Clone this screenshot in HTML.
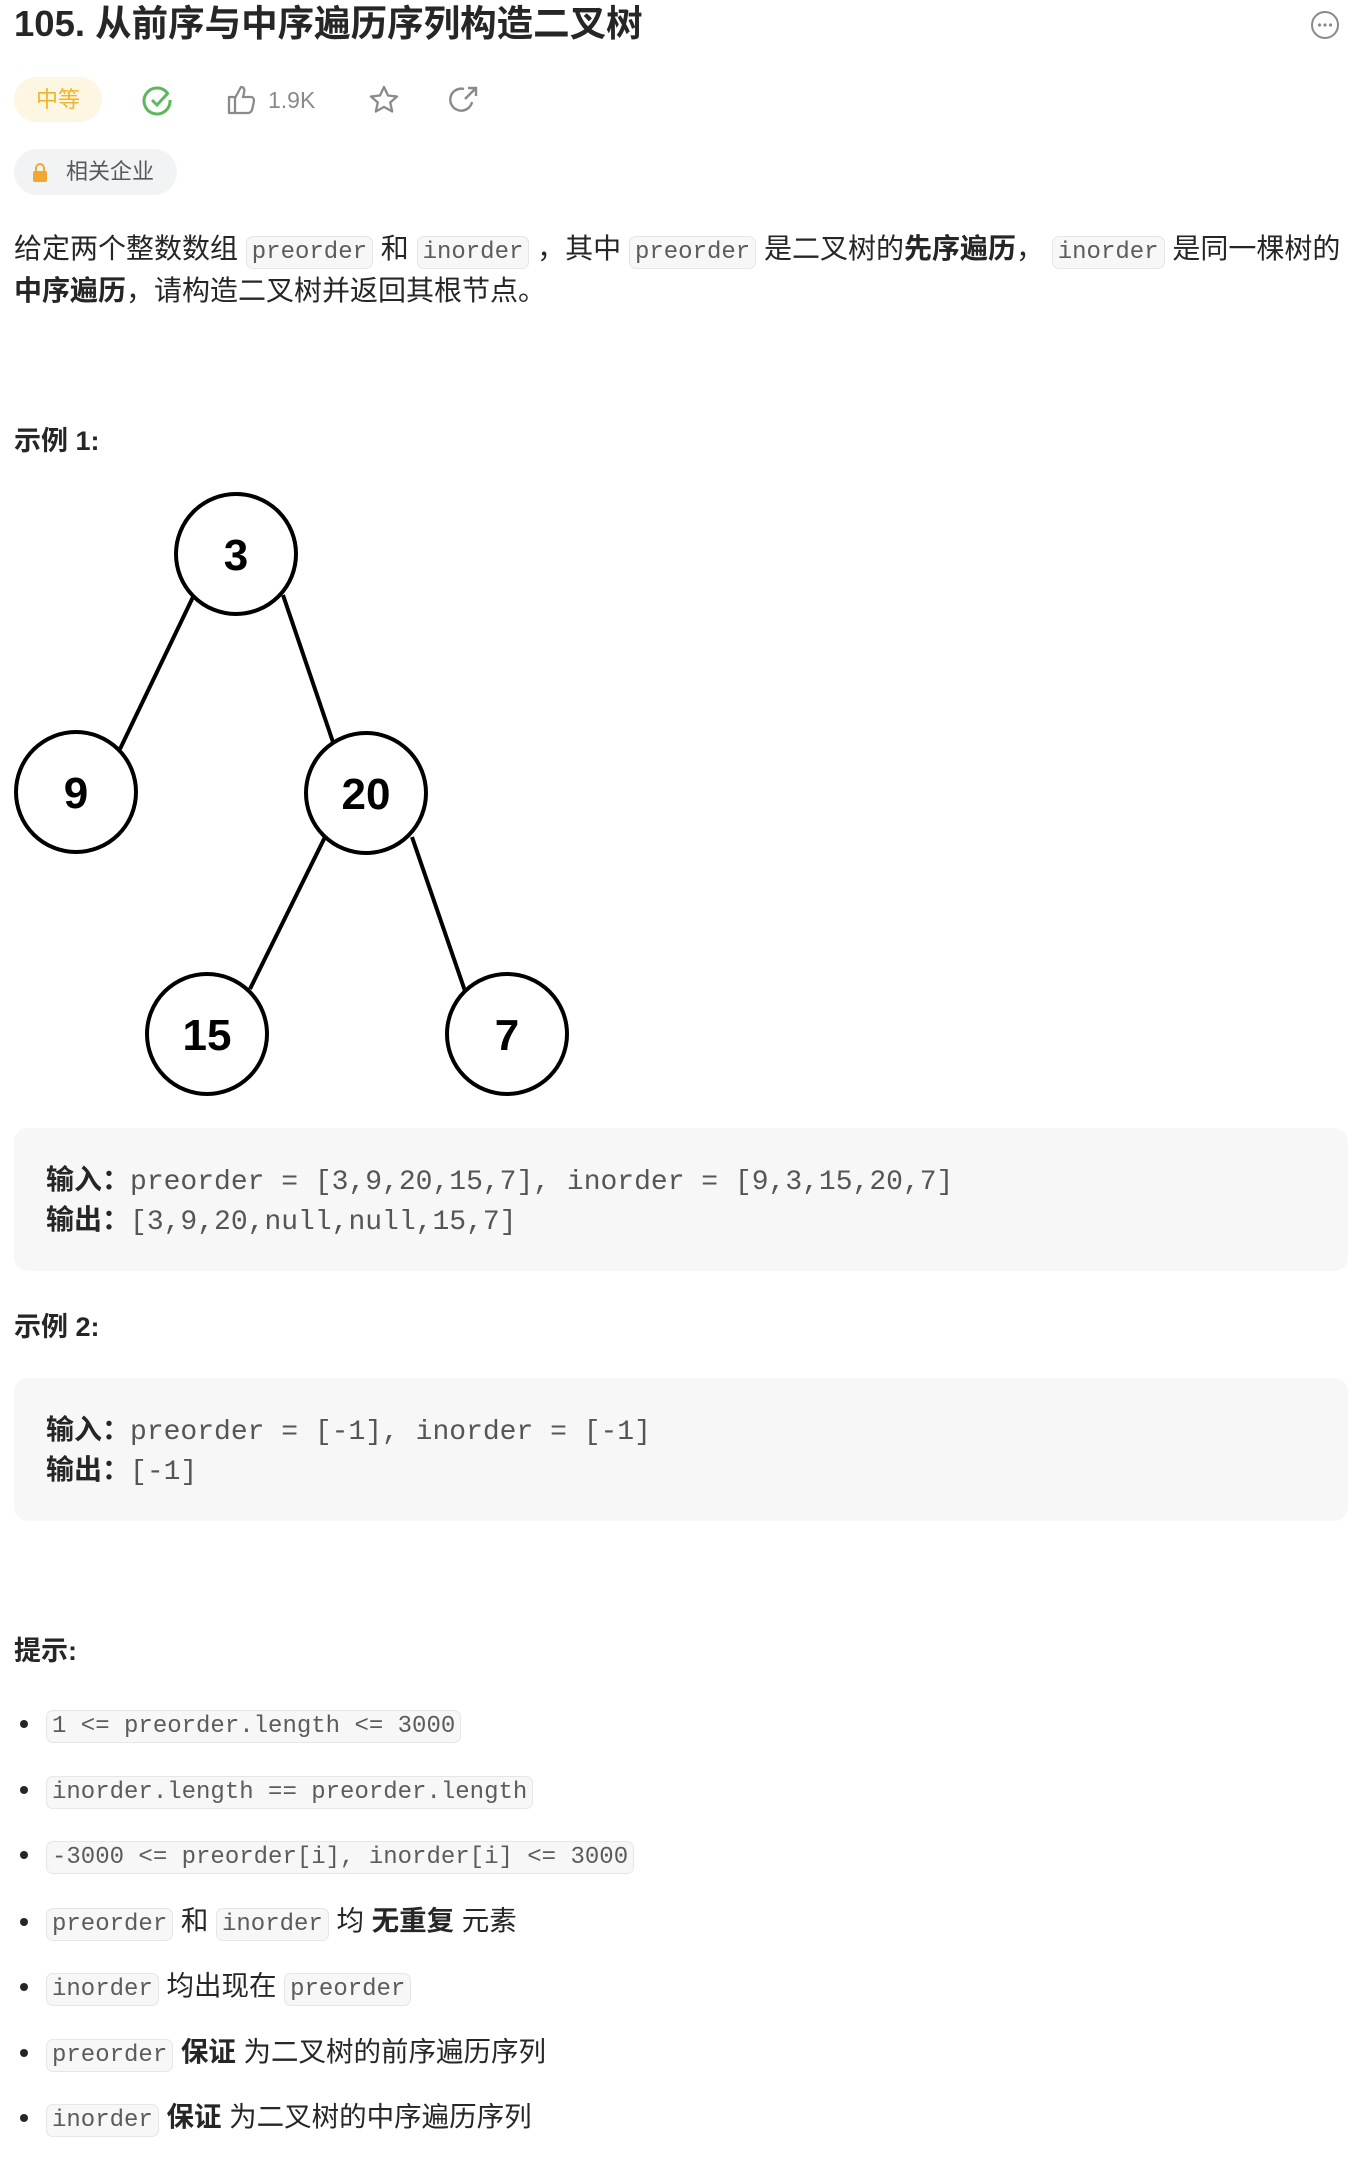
<!DOCTYPE html>
<html><head><meta charset="utf-8"><style>
*{margin:0;padding:0;box-sizing:border-box}
body{width:1364px;height:2184px;background:#fff;position:relative;overflow:hidden;font-family:"Liberation Sans","Noto Sans CJK SC",sans-serif;color:#262626}
.a{position:absolute;white-space:nowrap}
code{font-family:"Liberation Mono","DejaVu Sans Mono",monospace;font-size:24px;color:#5c5c5c;background:#f7f7f7;border:1.5px solid #e6e6e6;border-radius:7px;padding:2px 5px;}
.t{font-size:28px;line-height:42px}
.blk{position:absolute;left:14px;width:1334px;background:#f7f7f7;border-radius:14px}
.blk div{position:absolute;left:32px;font-size:28px;font-family:"Liberation Mono","DejaVu Sans Mono",monospace;color:#555;white-space:nowrap}
.blk b{font-family:"Liberation Sans","Noto Sans CJK SC",sans-serif;color:#262626}
.li{position:absolute;left:20px;font-size:27.5px;white-space:nowrap;line-height:40px}
.li:before{content:"";position:absolute;left:0;top:17px;width:8px;height:8px;border-radius:50%;background:#262626}
.li span.c{margin-left:26px}
</style></head><body>
<div class="a" style="left:14px;top:1px;font-size:36.5px;font-weight:bold;line-height:46px">105. 从前序与中序遍历序列构造二叉树</div>
<svg class="a" style="left:1310px;top:10px" width="30" height="30"><circle cx="15" cy="15" r="13" fill="none" stroke="#8a8a8a" stroke-width="2"/><circle cx="9.5" cy="15" r="1.6" fill="#8a8a8a"/><circle cx="15" cy="15" r="1.6" fill="#8a8a8a"/><circle cx="20.5" cy="15" r="1.6" fill="#8a8a8a"/></svg>
<div class="a" style="left:14px;top:77px;width:88px;height:45px;border-radius:23px;background:#fdf6e3;color:#f0b429;font-size:22px;line-height:45px;text-align:center">中等</div>
<svg class="a" style="left:142px;top:84px" width="32" height="32"><path d="M26 10 A13 13 0 1 0 28 16" fill="none" stroke="#5cb85c" stroke-width="3"/><path d="M10 16 l5 5 l11-12" fill="none" stroke="#5cb85c" stroke-width="3"/></svg>
<svg class="a" style="left:225px;top:84px" width="32" height="32"><path d="M4 13 h6 v16 h-6z M10 14 l6-11 c3 0 4 2 3 6 l-1 4 h8 c2 0 3 2 3 4 l-2 9 c-1 2-2 3-4 3 h-13" fill="none" stroke="#8a8a8a" stroke-width="2.3" stroke-linejoin="round"/></svg>
<div class="a" style="left:268px;top:86px;font-size:23px;color:#8a8a8a;line-height:28px">1.9K</div>
<svg class="a" style="left:368px;top:84px" width="32" height="32"><path d="M16 3 l4 8.5 9 1 -6.8 6 2 9 -8.2-4.6 -8.2 4.6 2-9 -6.8-6 9-1z" fill="none" stroke="#8a8a8a" stroke-width="2.3" stroke-linejoin="round"/></svg>
<svg class="a" style="left:448px;top:84px" width="32" height="32"><path d="M24 18 A11 11 0 1 1 16 5" fill="none" stroke="#8a8a8a" stroke-width="2.4"/><path d="M20 4 h8 v8 M28 4 l-11 11" fill="none" stroke="#8a8a8a" stroke-width="2.4"/></svg>
<div class="a" style="left:14px;top:149px;width:163px;height:46px;border-radius:23px;background:#f2f3f5;color:#595959;font-size:22px;line-height:46px;padding-left:52px">相关企业</div>
<svg class="a" style="left:32px;top:163px" width="16" height="20"><rect x="1" y="8" width="14" height="11" rx="2" fill="#f0a830"/><path d="M4 8 V5 a4 4 0 0 1 8 0 V8" fill="none" stroke="#f0a830" stroke-width="2"/></svg>
<div class="a t" style="left:14px;top:228px">给定两个整数数组 <code>preorder</code> 和 <code>inorder</code> ，其中 <code>preorder</code> 是二叉树的<b>先序遍历</b>， <code>inorder</code> 是同一棵树的</div>
<div class="a t" style="left:14px;top:270px"><b>中序遍历</b>，请构造二叉树并返回其根节点。</div>
<div class="a" style="left:14px;top:419px;font-size:27px;font-weight:bold">示例 1:</div>
<svg class="a" style="left:0;top:477px" width="600" height="620">
<g stroke="#000" stroke-width="4" fill="none">
<line x1="193" y1="120" x2="120" y2="272"/><line x1="283" y1="118" x2="334" y2="268"/>
<line x1="325" y1="360" x2="250" y2="512"/><line x1="412" y1="360" x2="465" y2="514"/>
<circle cx="236" cy="77" r="60" fill="#fff"/><circle cx="76" cy="315" r="60" fill="#fff"/><circle cx="366" cy="316" r="60" fill="#fff"/><circle cx="207" cy="557" r="60" fill="#fff"/><circle cx="507" cy="557" r="60" fill="#fff"/>
</g>
<g font-family="Liberation Sans,sans-serif" font-weight="bold" font-size="44" text-anchor="middle">
<text x="236" y="93">3</text><text x="76" y="331">9</text><text x="366" y="332">20</text><text x="207" y="573">15</text><text x="507" y="573">7</text></g>
</svg>
<div class="blk" style="top:1128px;height:143px"><div style="top:30px"><b>输入：</b>preorder = [3,9,20,15,7], inorder = [9,3,15,20,7]</div><div style="top:70px"><b>输出：</b>[3,9,20,null,null,15,7]</div></div>
<div class="a" style="left:14px;top:1305px;font-size:27px;font-weight:bold">示例 2:</div>
<div class="blk" style="top:1378px;height:143px"><div style="top:30px"><b>输入：</b>preorder = [-1], inorder = [-1]</div><div style="top:70px"><b>输出：</b>[-1]</div></div>
<div class="a" style="left:14px;top:1629px;font-size:27px;font-weight:bold">提示:</div>
<div class="li" style="top:1703px"><span class="c"><code>1 &lt;= preorder.length &lt;= 3000</code></span></div>
<div class="li" style="top:1769px"><span class="c"><code>inorder.length == preorder.length</code></span></div>
<div class="li" style="top:1834px"><span class="c"><code>-3000 &lt;= preorder[i], inorder[i] &lt;= 3000</code></span></div>
<div class="li" style="top:1901px"><span class="c"><code>preorder</code> 和 <code>inorder</code> 均 <b>无重复</b> 元素</span></div>
<div class="li" style="top:1966px"><span class="c"><code>inorder</code> 均出现在 <code>preorder</code></span></div>
<div class="li" style="top:2032px"><span class="c"><code>preorder</code> <b>保证</b> 为二叉树的前序遍历序列</span></div>
<div class="li" style="top:2097px"><span class="c"><code>inorder</code> <b>保证</b> 为二叉树的中序遍历序列</span></div>
</body></html>
